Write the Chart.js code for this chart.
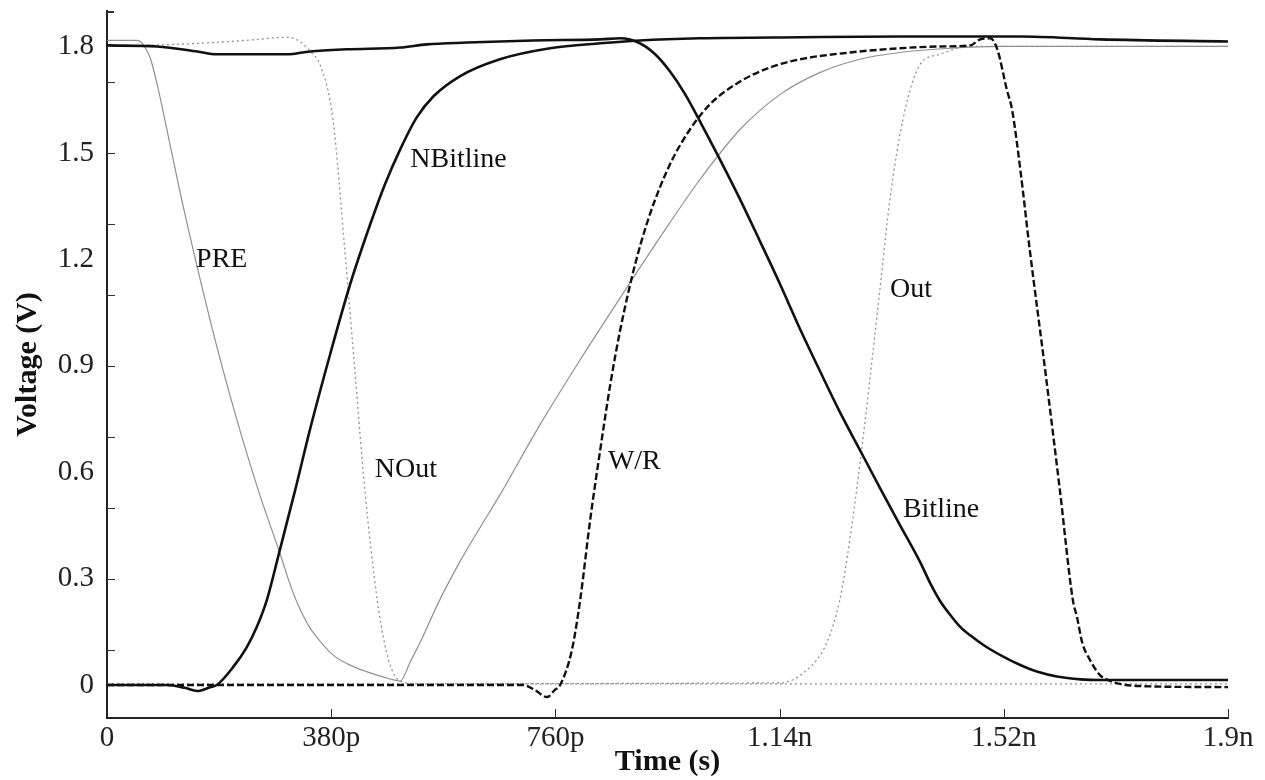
<!DOCTYPE html>
<html>
<head>
<meta charset="utf-8">
<title>Sense amplifier waveforms</title>
<script src="https://cdn.jsdelivr.net/npm/chart.js@4.4.1/dist/chart.umd.min.js"></script>
<style>
  html, body { margin: 0; padding: 0; background: #fff; }
  #wrap { width: 1265px; height: 780px; }
</style>
</head>
<body>
<div id="wrap"><canvas id="wave-chart" width="1265" height="780"></canvas></div>
<script>
// ==========================================
// DATA (time in ps, voltage in V)
// ==========================================

const xTickValues = [0, 380, 760, 1140, 1520, 1900];
const xTickLabels = ['0', '380p', '760p', '1.14n', '1.52n', '1.9n'];
const yTickValues = [0, 0.3, 0.6, 0.9, 1.2, 1.5, 1.8];
const yTickLabels = ['0', '0.3', '0.6', '0.9', '1.2', '1.5', '1.8'];
const yMarkValues = [0.1, 0.3, 0.5, 0.7, 0.9, 1.1, 1.3, 1.5, 1.7];
const xMarkValues = [380, 760, 1140, 1520, 1900];

const preT = [0, 51, 61, 73, 85, 98, 124, 158, 192, 225, 259, 293, 310, 327, 344, 361, 383, 412, 441, 480, 497,
  514, 531, 564, 598, 632, 666, 734, 802, 870, 937, 1005, 1073, 1141, 1209, 1276, 1344, 1429, 1514, 1900];
const preV = [1.817, 1.817, 1.806, 1.769, 1.693, 1.594, 1.388, 1.143, 0.917, 0.720, 0.536, 0.372, 0.285, 0.214, 0.161, 0.124, 0.085, 0.056, 0.037, 0.017, 0.011,
  0.065, 0.121, 0.240, 0.347, 0.443, 0.536, 0.734, 0.917, 1.092, 1.261, 1.425, 1.566, 1.665, 1.727, 1.764, 1.783, 1.795, 1.800, 1.800];

const noutT = [0, 158, 242, 305, 327, 349, 361, 383, 403, 420, 437, 458, 471, 483, 497, 531, 1900];
const noutV = [1.800, 1.809, 1.818, 1.826, 1.814, 1.778, 1.749, 1.594, 1.227, 0.889, 0.550, 0.240, 0.113, 0.042, 0.011, 0.003, 0.003];

const nbitT = [0, 102, 132, 153, 175, 186, 214, 237, 254, 271, 293, 319, 344, 378, 412, 446, 471, 497, 525, 553,
  598, 666, 751, 836, 903, 1005, 1175, 1344, 1548, 1683, 1900];
const nbitV = [0, 0, -0.008, -0.017, -0.006, 0, 0.051, 0.107, 0.164, 0.240, 0.381, 0.550, 0.720, 0.931, 1.129, 1.298, 1.411, 1.510, 1.600, 1.659,
  1.716, 1.764, 1.795, 1.809, 1.817, 1.823, 1.826, 1.828, 1.828, 1.820, 1.814];

const bitT = [0, 85, 153, 186, 305, 344, 407, 497, 542, 610, 722, 836, 870, 903, 929, 954, 980, 1005, 1039, 1073,
  1107, 1141, 1175, 1209, 1242, 1276, 1310, 1344, 1378, 1395, 1412, 1429, 1446, 1463, 1488, 1519, 1547, 1576, 1610, 1650, 1683, 1900];
const bitV = [1.803, 1.800, 1.786, 1.778, 1.778, 1.786, 1.792, 1.797, 1.806, 1.811, 1.817, 1.820, 1.823, 1.809, 1.778, 1.730, 1.665, 1.589, 1.481, 1.369,
  1.250, 1.129, 1.002, 0.883, 0.770, 0.663, 0.556, 0.451, 0.347, 0.288, 0.237, 0.198, 0.164, 0.140, 0.110, 0.080, 0.057, 0.038, 0.024, 0.016, 0.014, 0.014];

const wrT = [0, 705, 725, 746, 759, 768, 788, 802, 819, 836, 853, 870, 895, 920, 954, 988, 1022, 1073, 1124, 1175,
  1259, 1344, 1412, 1463, 1480, 1497, 1509, 1525, 1534, 1548, 1564, 1590, 1615, 1637, 1644, 1653, 1666, 1683, 1697, 1717, 1751, 1900];
const wrV = [0, 0, -0.014, -0.034, -0.014, 0, 0.099, 0.240, 0.466, 0.663, 0.847, 1.002, 1.185, 1.326, 1.467, 1.566, 1.637, 1.701, 1.741, 1.764,
  1.783, 1.795, 1.800, 1.803, 1.820, 1.823, 1.792, 1.679, 1.622, 1.453, 1.227, 0.889, 0.550, 0.240, 0.192, 0.119, 0.071, 0.028, 0.014, 0.003, -0.003, -0.006];

const outT = [0, 1141, 1186, 1220, 1242, 1259, 1276, 1293, 1310, 1327, 1349, 1378, 1412, 1446, 1471, 1900];
const outV = [0.003, 0.006, 0.042, 0.119, 0.240, 0.409, 0.621, 0.861, 1.115, 1.369, 1.594, 1.749, 1.778, 1.797, 1.800, 1.800];

// curve names, anchored at (time, voltage) of the text's left edge
const labelNames = ['PRE', 'NBitline', 'NOut', 'W/R', 'Out', 'Bitline'];
const labelTimes = [151, 514, 454, 849, 1327, 1349];
const labelVolts = [1.199, 1.481, 0.607, 0.629, 1.115, 0.494];

// ==========================================
// HELPERS / PLUGINS
// ==========================================

const SERIF = '"Liberation Serif", "Times New Roman", serif';
const THIN_GRAY = '#909090';
const INK = '#111111';

function points(ts, vs) {
  return ts.map((t, i) => ({ x: t, y: vs[i] }));
}

// small inward tick marks on both axes
const axisMarks = {
  id: 'axisMarks',
  afterDatasetsDraw(chart) {
    const { ctx, chartArea, scales: { x, y } } = chart;
    ctx.save();
    ctx.strokeStyle = '#333';
    ctx.lineWidth = 1;
    ctx.beginPath();
    yMarkValues.forEach(v => {
      const py = Math.round(y.getPixelForValue(v)) + 0.5;
      ctx.moveTo(chartArea.left, py);
      ctx.lineTo(chartArea.left + 8, py);
    });
    xMarkValues.forEach(v => {
      const px = Math.round(x.getPixelForValue(v)) + 0.5;
      ctx.moveTo(px, chartArea.bottom);
      ctx.lineTo(px, chartArea.bottom - 9);
    });
    ctx.stroke();
    ctx.lineWidth = 2;
    ctx.beginPath();
    ctx.moveTo(chartArea.left, chartArea.top + 1);
    ctx.lineTo(chartArea.left + 7, chartArea.top + 1);
    ctx.stroke();
    ctx.restore();
  }
};

const curveLabels = {
  id: 'curveLabels',
  afterDatasetsDraw(chart) {
    const { ctx, scales: { x, y } } = chart;
    ctx.save();
    ctx.font = '28px ' + SERIF;
    ctx.fillStyle = INK;
    ctx.textAlign = 'left';
    ctx.textBaseline = 'middle';
    labelNames.forEach((name, i) => {
      ctx.fillText(name, x.getPixelForValue(labelTimes[i]), y.getPixelForValue(labelVolts[i]));
    });
    ctx.restore();
  }
};

// ==========================================
// CHART
// ==========================================

const ctx = document.getElementById('wave-chart').getContext('2d');

new Chart(ctx, {
  type: 'line',
  data: {
    datasets: [
      {
        label: 'Bitline',
        data: points(bitT, bitV),
        borderColor: INK,
        borderWidth: 2.6
      },
      {
        label: 'NBitline',
        data: points(nbitT, nbitV),
        borderColor: INK,
        borderWidth: 2.6
      },
      {
        label: 'W/R',
        data: points(wrT, wrV),
        borderColor: INK,
        borderWidth: 2.4,
        borderDash: [7, 3]
      },
      {
        label: 'PRE',
        data: points(preT, preV),
        borderColor: THIN_GRAY,
        borderWidth: 1.2
      },
      {
        label: 'NOut',
        data: points(noutT, noutV),
        borderColor: THIN_GRAY,
        borderWidth: 1.3,
        borderDash: [2, 3]
      },
      {
        label: 'Out',
        data: points(outT, outV),
        borderColor: THIN_GRAY,
        borderWidth: 1.3,
        borderDash: [2, 3]
      }
    ]
  },
  options: {
    responsive: false,
    animation: false,
    elements: {
      point: { radius: 0 },
      line: { cubicInterpolationMode: 'monotone', fill: false }
    },
    layout: { padding: { top: 11, right: 37, bottom: 0, left: 0 } },
    plugins: {
      legend: { display: false },
      tooltip: { enabled: false }
    },
    scales: {
      x: {
        type: 'linear',
        min: 0,
        max: 1900,
        afterFit: scale => {
          scale.height = 62;
          scale.paddingLeft = 0;
          scale.paddingRight = 0;
        },
        afterBuildTicks: scale => { scale.ticks = xTickValues.map(v => ({ value: v })); },
        grid: { display: false, drawTicks: false },
        border: { display: true, color: '#222', width: 2 },
        ticks: {
          autoSkip: false,
          maxRotation: 0,
          minRotation: 0,
          padding: 6,
          color: '#222',
          font: { family: SERIF, size: 29, lineHeight: 1 },
          callback: (value, index) => xTickLabels[index]
        },
        title: {
          display: true,
          text: 'Time (s)',
          color: INK,
          font: { family: SERIF, size: 30, weight: 'bold', lineHeight: 1 },
          padding: { top: 0, bottom: 3 }
        }
      },
      y: {
        type: 'linear',
        min: -0.093,
        max: 1.9,
        afterFit: scale => {
          scale.width = 107;
          scale.paddingTop = 0;
          scale.paddingBottom = 0;
        },
        afterBuildTicks: scale => { scale.ticks = yTickValues.map(v => ({ value: v })); },
        grid: { display: false, drawTicks: false },
        border: { display: true, color: '#222', width: 2 },
        ticks: {
          padding: 13,
          color: '#222',
          font: { family: SERIF, size: 29, lineHeight: 1 },
          callback: (value, index) => yTickLabels[index]
        },
        title: {
          display: true,
          text: 'Voltage (V)',
          color: INK,
          font: { family: SERIF, size: 30, weight: 'bold', lineHeight: 1 },
          padding: { top: 13, bottom: 0 }
        }
      }
    }
  },
  plugins: [axisMarks, curveLabels]
});
</script>
</body>
</html>
